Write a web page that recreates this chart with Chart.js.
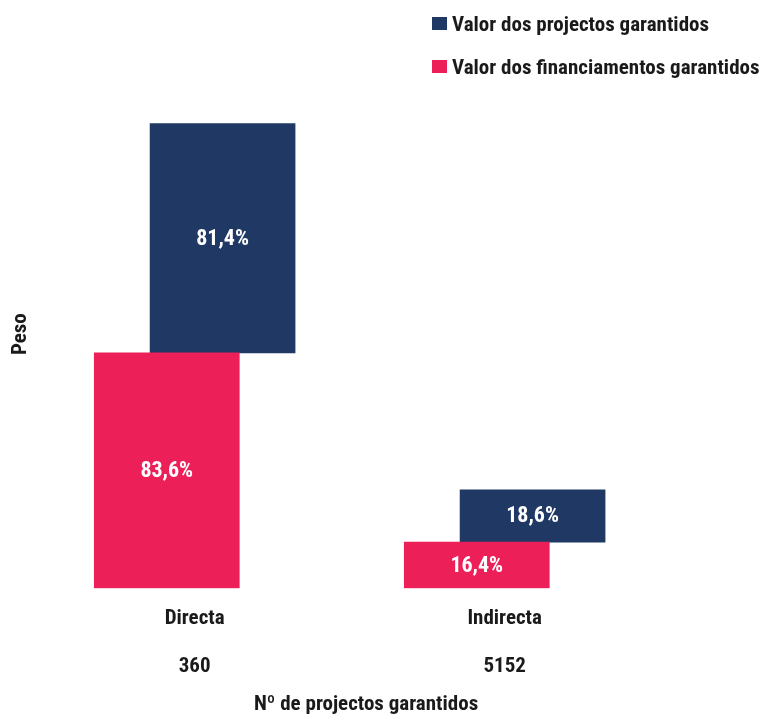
<!DOCTYPE html>
<html>
<head>
<meta charset="utf-8">
<script src="https://cdn.jsdelivr.net/npm/chart.js@4/dist/chart.umd.min.js"></script>
<style>
  html, body { margin: 0; padding: 0; background: #fff; }
  #wrap { position: relative; width: 764px; height: 719px; }
  #chart { position: absolute; left: 0; top: 0; }
  .legend { position: absolute; left: 432px; top: 0; }
  .legend-row {
    position: absolute; left: 0; height: 24px; white-space: nowrap;
    display: flex; align-items: center;
    font: bold 21px "Roboto Condensed", "Open Sans Condensed", sans-serif;
    color: #1a1a1a;
  }
  .swatch { width: 15px; height: 13px; margin-right: 5px; flex: none; }
</style>
</head>
<body>
<div id="wrap">
  <canvas id="chart" width="764" height="719"></canvas>
  <div class="legend" id="legend"></div>
</div>
<script>
/* ---- Data ---------------------------------------------------------------- */

const categories = ["Directa", "Indirecta"];
const projectCounts = ["360", "5152"];
const seriesLabels = ["Valor dos projectos garantidos", "Valor dos financiamentos garantidos"];
const projectosPct = [81.4, 18.6];
const financiamentosPct = [83.6, 16.4];

/* ---- Theme --------------------------------------------------------------- */

const NAVY = "#203864";
const PINK = "#ec1f59";
const FONT = '"Roboto Condensed", "Open Sans Condensed", sans-serif';
const TEXT = "#1a1a1a";
const SHIFT = 0.09; // half offset between the two bars of a category

function fmtPct(v) {
  return v.toFixed(1).replace(".", ",") + "%";
}

/* ---- HTML legend (two stacked rows) -------------------------------------- */

const legendEl = document.getElementById("legend");
[NAVY, PINK].forEach((color, i) => {
  const row = document.createElement("div");
  row.className = "legend-row";
  row.style.top = (11.5 + i * 43) + "px";
  const sw = document.createElement("span");
  sw.className = "swatch";
  sw.style.background = color;
  const txt = document.createElement("span");
  txt.textContent = seriesLabels[i];
  row.appendChild(sw);
  row.appendChild(txt);
  legendEl.appendChild(row);
});

/* ---- Bar value labels ---------------------------------------------------- */

const barLabels = {
  id: "barLabels",
  afterDatasetsDraw(chart) {
    const ctx = chart.ctx;
    ctx.save();
    ctx.fillStyle = "#ffffff";
    ctx.font = "bold 22px " + FONT;
    ctx.textAlign = "center";
    ctx.textBaseline = "middle";
    chart.data.datasets.forEach((ds, di) => {
      chart.getDatasetMeta(di).data.forEach((bar, i) => {
        const { x, y, base } = bar.getProps(["x", "y", "base"], true);
        ctx.fillText(fmtPct(ds.values[i]), x, (y + base) / 2 + 1);
      });
    });
    ctx.restore();
  },
};

/* ---- Chart --------------------------------------------------------------- */

const ctx = document.getElementById("chart").getContext("2d");

new Chart(ctx, {
  type: "bar",
  data: {
    datasets: [
      {
        label: seriesLabels[1],
        values: financiamentosPct,
        data: categories.map((c, i) => ({ x: i - SHIFT, y: [0, financiamentosPct[i]] })),
        backgroundColor: PINK,
      },
      {
        label: seriesLabels[0],
        values: projectosPct,
        data: categories.map((c, i) => ({
          x: i + SHIFT,
          y: [financiamentosPct[i], financiamentosPct[i] + projectosPct[i]],
        })),
        backgroundColor: NAVY,
      },
    ],
  },
  options: {
    responsive: false,
    animation: false,
    grouped: false,
    barThickness: 145,
    borderWidth: 0,
    layout: { padding: { top: 80, left: 4, right: 69, bottom: 0 } },
    plugins: {
      legend: { display: false },
      tooltip: { enabled: false },
    },
    scales: {
      x: {
        type: "linear",
        offset: false,
        min: -0.508,
        max: 1.614,
        grid: { display: false, drawTicks: false },
        border: { display: false },
        afterBuildTicks: (scale) => {
          scale.ticks = categories.map((c, i) => ({ value: i }));
        },
        ticks: {
          autoSkip: false,
          maxRotation: 0,
          padding: 18.5,
          color: TEXT,
          font: { family: FONT, size: 21, weight: "bold", lineHeight: 1.15 },
          callback: (v) => [categories[v], "", projectCounts[v]],
        },
        title: {
          display: true,
          text: "Nº de projectos garantidos",
          color: TEXT,
          padding: { top: -6, bottom: 2 },
          font: { family: FONT, size: 21, weight: "bold", lineHeight: 1.2 },
        },
      },
      y: {
        min: 0,
        max: 180.5,
        grid: { display: false, drawTicks: false },
        border: { display: false },
        ticks: { display: false },
        title: {
          display: true,
          text: "Peso",
          color: TEXT,
          font: { family: FONT, size: 21, weight: "bold", lineHeight: 1.2 },
        },
      },
    },
  },
  plugins: [barLabels],
});
</script>
</body>
</html>
